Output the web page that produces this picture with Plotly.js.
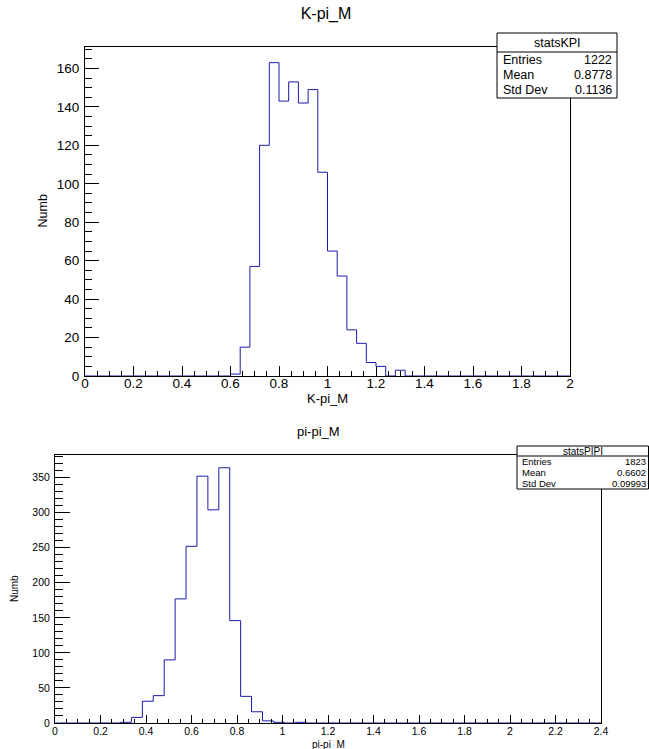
<!DOCTYPE html>
<html>
<head>
<meta charset="utf-8">
<script src="https://cdn.plot.ly/plotly-3.0.1.min.js"></script>
<style>
  html, body { margin: 0; padding: 0; background: #ffffff; }
  #chart { width: 649px; height: 749px; }
</style>
</head>
<body>
<div id="chart"></div>
<script>
// ---------- data ----------
const kpiTitle = "K-pi_M";
const kpiXMin = 0, kpiXMax = 2;
const kpiCounts = [
  0,0,0,0,0, 0,0,0,0,0, 0,0,0,0,0,
  1,15,57,120,163, 143,153,142,149,106,
  65,52,24,17,7, 5,0,3,0,0,
  0,0,0,0,0, 0,0,0,0,0, 0,0,0,0,0
];
const kpiStatsName = "statsKPI";
const kpiStatsLabels = ["Entries", "Mean", "Std Dev"];
const kpiStatsValues = ["1222", "0.8778", "0.1136"];

const pipiTitle = "pi-pi_M";
const pipiXMin = 0, pipiXMax = 2.4;
const pipiCounts = [
  0,0,0,0,0, 0,1,8,31,39,
  90,177,252,352,304, 364,146,38,16,3,
  1,0,1,0,0, 0,0,0,0,0,
  0,0,0,0,0, 0,0,0,0,0,
  0,0,0,0,0, 0,0,0,0,0
];
const pipiStatsName = "statsPIPI";
const pipiStatsLabels = ["Entries", "Mean", "Std Dev"];
const pipiStatsValues = ["1823", "0.6602", "0.09993"];

const yTitle = "Numb";

// ---------- helpers ----------
const W = 649, H = 749;
const px = x => x / W;
const py = y => 1 - y / H;
const FONT = "Liberation Sans, Arial, Helvetica, sans-serif";
const LINE = "#1a1aa8";

function stepXY(counts, xmin, xmax) {
  const n = counts.length, w = (xmax - xmin) / n;
  const xs = [], ys = [];
  for (let i = 0; i <= n; i++) {
    xs.push(xmin + i * w);
    ys.push(i < n ? counts[i] : counts[n - 1]);
  }
  return {xs, ys};
}

const kStep = stepXY(kpiCounts, kpiXMin, kpiXMax);
const pStep = stepXY(pipiCounts, pipiXMin, pipiXMax);

const traces = [
  {x: kStep.xs, y: kStep.ys, type: "scatter", mode: "lines", line: {shape: "hv", color: LINE, width: 1},
   xaxis: "x", yaxis: "y", hoverinfo: "skip", showlegend: false},
  {x: pStep.xs, y: pStep.ys, type: "scatter", mode: "lines", line: {shape: "hv", color: LINE, width: 1},
   xaxis: "x2", yaxis: "y2", hoverinfo: "skip", showlegend: false}
];

// frame geometry (pixels)
const fTop = {l: 85, r: 570, t: 47, b: 376};
const fBot = {l: 55, r: 601, t: 455, b: 723};

function axisCommon(extra) {
  return Object.assign({
    showgrid: false, zeroline: false, showline: true, mirror: true,
    linecolor: "#000", linewidth: 1, ticks: "inside", tickcolor: "#000",
    tickwidth: 1, fixedrange: true
  }, extra);
}

const layout = {
  width: W, height: H,
  margin: {l: 0, r: 0, t: 0, b: 0, pad: 0},
  paper_bgcolor: "#fff", plot_bgcolor: "#fff",
  showlegend: false,
  font: {family: FONT, color: "#000"},
  title: {text: kpiTitle, x: px(326), xanchor: "center", y: py(13), yanchor: "middle",
          xref: "paper", yref: "paper", font: {family: FONT, size: 16, color: "#000"}},
  xaxis: axisCommon({domain: [px(fTop.l), px(fTop.r)], anchor: "y",
    range: [kpiXMin, kpiXMax], tick0: 0, dtick: 0.2, ticklen: 10,
    tickfont: {size: 13.5, family: FONT}, ticklabelstandoff: -5,
    minor: {dtick: 0.05, tick0: 0, ticks: "inside", ticklen: 5, tickcolor: "#000", tickwidth: 1}}),
  yaxis: axisCommon({domain: [py(fTop.b), py(fTop.t)], anchor: "x",
    range: [0, 1.05 * Math.max(...kpiCounts)], tick0: 0, dtick: 20, ticklen: 14,
    tickfont: {size: 13.5, family: FONT}, ticklabelstandoff: 2,
    minor: {dtick: 5, tick0: 0, ticks: "inside", ticklen: 7, tickcolor: "#000", tickwidth: 1}}),
  xaxis2: axisCommon({domain: [px(fBot.l), px(fBot.r)], anchor: "y2",
    range: [pipiXMin, pipiXMax], tick0: 0, dtick: 0.2, ticklen: 8,
    tickfont: {size: 10.5, family: FONT}, ticklabelstandoff: -2,
    minor: {dtick: 0.05, tick0: 0, ticks: "inside", ticklen: 4, tickcolor: "#000", tickwidth: 1}}),
  yaxis2: axisCommon({domain: [py(fBot.b), py(fBot.t)], anchor: "x2",
    range: [0, 1.05 * Math.max(...pipiCounts)], tick0: 0, dtick: 50, ticklen: 15,
    tickfont: {size: 10.5, family: FONT}, ticklabelstandoff: 2,
    minor: {dtick: 10, tick0: 0, ticks: "inside", ticklen: 8, tickcolor: "#000", tickwidth: 1}}),
  shapes: [],
  annotations: []
};

function ann(text, x, y, size, xanchor, extra) {
  layout.annotations.push(Object.assign({
    text: text, x: px(x), y: py(y), xref: "paper", yref: "paper",
    xanchor: xanchor || "center", yanchor: "middle", showarrow: false,
    font: {family: FONT, size: size, color: "#000"}
  }, extra || {}));
}

// axis titles
ann(kpiTitle, (fTop.l + fTop.r) / 2, 399, 13);
ann(yTitle, 42, (fTop.t + fTop.b) / 2, 12.5, "center", {textangle: -90});
ann(pipiTitle, 318, 431, 13);
ann(pipiTitle, (fBot.l + fBot.r) / 2, 744.5, 10);
ann(yTitle, 14, (fBot.t + fBot.b) / 2, 10, "center", {textangle: -90});

// stats boxes
function statsBox(b, name, labels, values, fs, tfs) {
  layout.shapes.push({type: "rect", xref: "paper", yref: "paper", layer: "above",
    x0: px(b.l), x1: px(b.r), y0: py(b.b), y1: py(b.t),
    fillcolor: "#fff", line: {color: "#000", width: 1}});
  layout.shapes.push({type: "line", xref: "paper", yref: "paper", layer: "above",
    x0: px(b.l), x1: px(b.r), y0: py(b.sep), y1: py(b.sep),
    line: {color: "#000", width: 1}});
  ann(name, (b.l + b.r) / 2, (b.t + b.sep) / 2, tfs);
  const rowH = (b.b - b.sep) / labels.length;
  for (let i = 0; i < labels.length; i++) {
    const yy = b.sep + rowH * (i + 0.5);
    ann(labels[i], b.l + b.padL, yy, fs, "left");
    ann(values[i], b.r - b.padR, yy, fs, "right");
  }
}
statsBox({l: 497, r: 617, t: 33, sep: 52, b: 98, padL: 4, padR: 3},
  kpiStatsName, kpiStatsLabels, kpiStatsValues, 12.5, 12.5);
statsBox({l: 517, r: 648.5, t: 446, sep: 456, b: 489, padL: 3, padR: 1},
  pipiStatsName, pipiStatsLabels, pipiStatsValues, 9.5, 10);

Plotly.newPlot("chart", traces, layout, {staticPlot: true, displayModeBar: false});
</script>
</body>
</html>
